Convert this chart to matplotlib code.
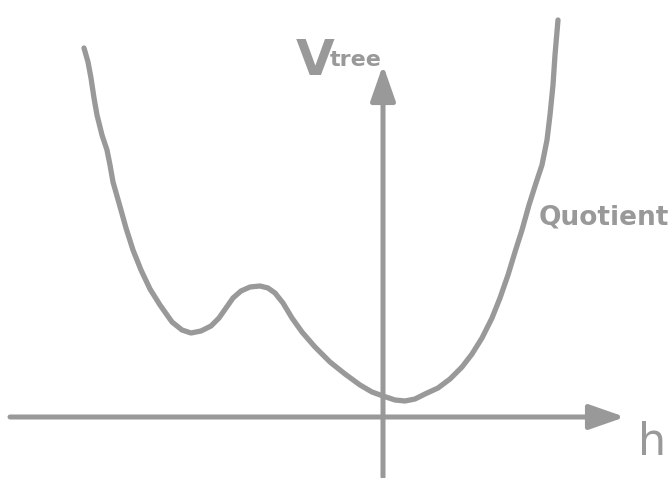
import matplotlib
matplotlib.use("Agg")
import matplotlib.pyplot as plt

# potential curve V_tree(h)
h_vals = [-2.99, -2.95, -2.92, -2.89, -2.86, -2.81, -2.76, -2.73, -2.70, -2.64,
          -2.57, -2.50, -2.42, -2.33, -2.23, -2.11, -2.01, -1.92, -1.82, -1.72,
          -1.64, -1.57, -1.50, -1.42, -1.33, -1.23, -1.15, -1.08, -1.00, -0.91,
          -0.81, -0.68, -0.53, -0.38, -0.23, -0.11, 0.00, 0.12, 0.22, 0.32,
          0.42, 0.55, 0.67, 0.79, 0.89, 0.99, 1.09, 1.17, 1.25, 1.32,
          1.39, 1.46, 1.53, 1.59, 1.64, 1.67, 1.70, 1.72, 1.75]
v_vals = [3.69, 3.55, 3.39, 3.19, 3.02, 2.82, 2.67, 2.52, 2.35, 2.14,
          1.89, 1.67, 1.47, 1.28, 1.12, 0.95, 0.87, 0.84, 0.86, 0.91,
          0.99, 1.09, 1.19, 1.26, 1.30, 1.31, 1.29, 1.24, 1.14, 0.99,
          0.85, 0.70, 0.55, 0.43, 0.32, 0.25, 0.21, 0.17, 0.16, 0.18,
          0.23, 0.29, 0.38, 0.50, 0.63, 0.79, 0.99, 1.19, 1.42, 1.65,
          1.87, 2.12, 2.34, 2.52, 2.77, 3.02, 3.32, 3.62, 3.97]

grey = "#999999"

fig = plt.figure(figsize=(6.69, 4.78), dpi=100)
ax = fig.add_axes([0, 0, 1, 1])
ax.set_xlim(-3.83, 2.86)
ax.set_ylim(-0.61, 4.17)
ax.axis("off")

arrow = dict(arrowstyle="-|>,head_length=0.4,head_width=0.14", mutation_scale=54,
             color=grey, lw=3.6, shrinkA=0, shrinkB=0, capstyle="round")
# h axis and V axis
ax.annotate("", xy=(2.42, 0), xytext=(-3.73, 0), arrowprops=arrow)
ax.annotate("", xy=(0, 3.52), xytext=(0, -0.60), arrowprops=arrow)

ax.plot(h_vals, v_vals, color=grey, lw=3.8, solid_capstyle="round",
        solid_joinstyle="round")

ax.text(-0.87, 3.42, "V", color=grey, fontsize=36, fontweight="bold",
        ha="left", va="baseline")
ax.text(-0.53, 3.51, "tree", color=grey, fontsize=16, fontweight="bold",
        ha="left", va="baseline")
ax.text(1.56, 1.92, "Quotient", color=grey, fontsize=19, fontweight="bold",
        ha="left", va="baseline")
ax.text(2.55, -0.38, "h", color=grey, fontsize=32, ha="left", va="baseline")

fig.savefig("out.png", dpi=100, facecolor="white")
